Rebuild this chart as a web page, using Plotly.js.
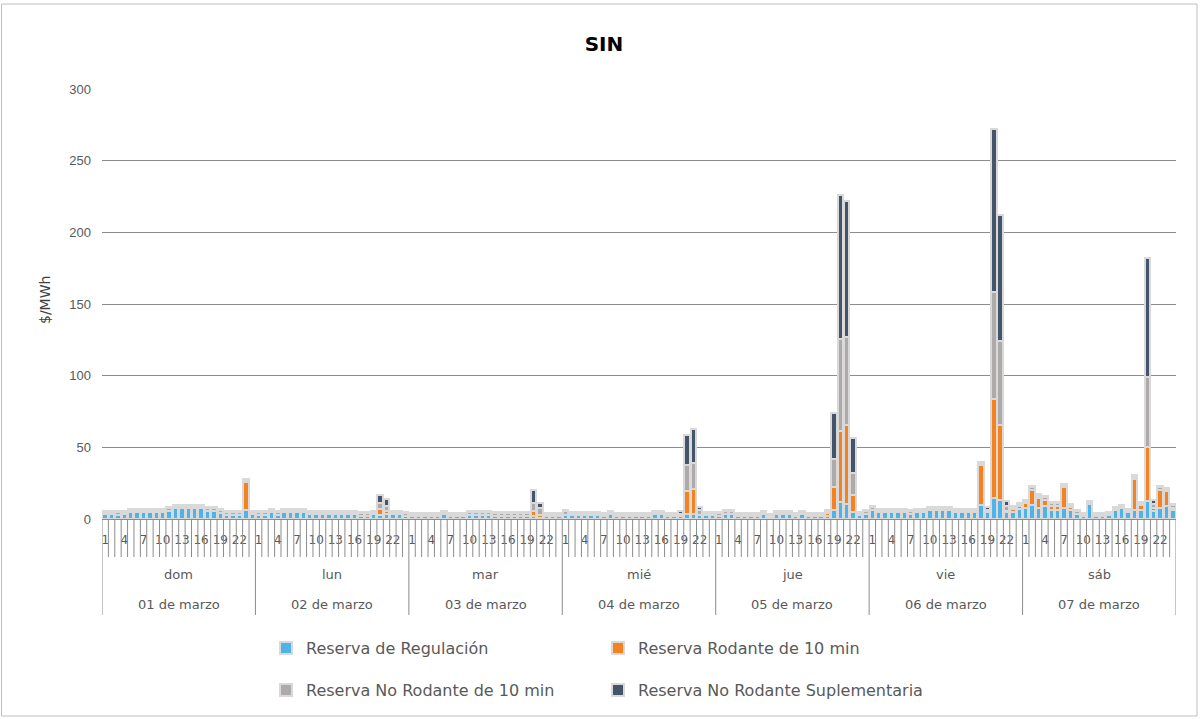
<!DOCTYPE html>
<html><head><meta charset="utf-8">
<script src="https://cdn.plot.ly/plotly-3.0.1.min.js"></script>
<style>html,body{margin:0;padding:0;background:#fff}#chart{width:1202px;height:719px}</style>
</head><body><div id="chart"></div>
<script>
const days = ['dom','lun','mar','mié','jue','vie','sáb'];
const dates = ['01 de marzo','02 de marzo','03 de marzo','04 de marzo','05 de marzo','06 de marzo','07 de marzo'];
const hours = [1,2,3,4,5,6,7,8,9,10,11,12,13,14,15,16,17,18,19,20,21,22,23,24];
const hourLabels = [1,4,7,10,13,16,19,22];
const yTicks = [0,50,100,150,200,250,300];

// Reserva de Regulación ($/MWh), 24 hours per day, dom..sáb
const regulacion = [
 3.3,3.3,3.0,3.3,4.7,4.7,4.7,4.7,4.7,4.7,5.8,7.4,7.7,7.4,7.4,7.4,5.8,5.8,4.4,3.0,3.0,3.0,6.2,3.3,
 3.0,3.0,4.6,3.0,4.6,4.6,4.6,4.6,3.3,3.3,3.3,3.3,3.3,3.3,3.3,3.3,2.3,2.3,3.3,3.0,3.5,3.3,3.3,2.3,
 1.9,1.9,1.9,1.9,1.9,3.3,2.1,2.1,2.1,3.0,3.0,3.0,3.0,2.3,2.3,2.3,2.3,2.3,2.3,2.1,1.0,1.9,1.9,1.9,
 3.0,2.8,2.8,2.8,2.8,2.8,1.9,3.2,1.9,1.9,1.9,1.9,1.9,1.9,3.2,3.2,1.9,1.9,1.9,3.5,3.5,2.6,2.6,2.6,
 1.9,3.5,3.7,2.1,2.1,2.1,2.1,3.5,1.2,3.5,3.5,3.5,1.9,3.3,1.9,1.9,1.9,1.9,6.5,11.9,10.5,4.9,2.6,3.7,
 6.1,4.9,4.9,4.9,4.9,4.9,3.7,4.9,4.9,6.1,6.1,6.1,6.1,4.9,4.9,4.9,4.9,9.6,4.9,14.9,13.1,4.9,5.2,6.7,
 7.7,9.6,7.7,9.1,6.1,6.1,7.7,6.1,3.7,2.1,10.3,2.1,2.1,2.6,6.1,7.7,4.9,6.5,6.5,12.4,5.4,7.7,9.1,6.1
];
// Reserva Rodante de 10 min
const rodante10 = [
 0,0,0,0,0,0,0,0,0,0,0,0,0,0,0,0,0,0,0,0,0,0,19.5,0,
 0,0,0,0,0,0,0,0,0,0,0,0,0,0,0,0,0,0,0,4.0,2.1,0,0,0,
 0,0,0,0,0,0,0,0,0,0,0,0,0,0,0,0,0,0,0,3.2,2.0,0,0,0,
 0,0,0,0,0,0,0,0,0,0,0,0,0,0,0,0,0,0,0,15.8,17.5,0,0,0,
 0,0,0,0,0,0,0,0,0,0,0,0,0,0,0,0,0,2.0,15.9,49.4,55.0,12.1,0,0,
 0,0,0,0,0,0,0,0,0,0,0,0,0,0,0,0,0,28.2,0.3,68.5,52.2,0.5,1.8,2.2,
 3.5,10.9,7.0,4.4,3.2,3.2,14.4,2.1,0,0,0,0,0,0,0,0,0,21.5,3.1,37.7,2.1,12.8,10.2,1.8
];
// Reserva No Rodante de 10 min
const noRodante10 = [
 1.6,1.6,1.6,1.6,1.6,1.6,1.6,1.6,1.6,1.6,1.6,1.6,1.6,1.6,1.6,1.6,1.6,1.6,1.6,1.6,1.6,1.6,1.2,1.6,
 1.6,1.6,1.6,1.6,1.6,1.6,1.6,1.6,1.6,1.6,1.6,1.6,1.6,1.6,1.6,1.6,1.6,1.6,1.6,4.3,3.7,1.6,1.6,1.6,
 1.6,1.6,1.6,1.6,1.6,1.6,1.6,1.6,1.6,1.6,1.6,1.6,1.6,1.6,1.6,1.6,1.6,1.6,1.6,5.9,4.9,1.6,1.6,1.6,
 2.7,1.6,1.6,1.6,1.6,1.6,1.6,1.6,1.6,1.6,1.6,1.6,1.6,1.6,1.6,1.6,1.6,1.6,1.5,18.4,18.0,3.4,1.6,1.6,
 2.2,2.2,1.6,1.6,1.6,1.6,1.6,1.6,1.6,1.6,1.6,1.6,1.6,1.6,1.6,1.6,1.6,1.6,19.6,64.6,61.8,15.2,1.6,1.6,
 2.2,1.6,1.6,1.6,1.6,1.6,1.6,1.6,1.6,1.6,1.6,1.6,1.6,1.6,1.6,1.6,1.6,1.5,1.0,75.3,58.9,3.5,1.6,1.6,
 1.6,1.6,1.6,1.6,1.6,1.6,1.6,1.6,1.6,1.6,1.6,1.6,1.6,1.6,1.6,1.6,1.6,1.6,1.6,49.0,3.0,1.6,1.6,1.6
];
// Reserva No Rodante Suplementaria
const suplementaria = [
 0.8,0.8,0.8,0.8,0.8,0.8,0.8,0.8,0.8,0.8,0.8,0.8,0.8,0.8,0.8,0.8,0.8,0.8,0.8,0.8,0.8,0.8,0.8,0.8,
 0.8,0.8,0.8,0.8,0.8,0.8,0.8,0.8,0.8,0.8,0.8,0.8,0.8,0.8,0.8,0.8,0.8,0.8,0.8,5.7,4.7,0.8,0.8,0.8,
 0.8,0.8,0.8,0.8,0.8,0.8,0.8,0.8,0.8,0.8,0.8,0.8,0.8,0.8,0.8,0.8,0.8,0.8,0.8,8.8,3.3,0.8,0.8,0.8,
 0.8,0.8,0.8,0.8,0.8,0.8,0.8,0.8,0.8,0.8,0.8,0.8,0.8,0.8,0.8,0.8,0.8,0.8,2.2,20.9,23.8,2.4,0.8,0.8,
 0.8,0.8,0.8,0.8,0.8,0.8,0.8,0.8,0.8,0.8,0.8,0.8,0.8,0.8,0.8,0.8,0.8,0.8,32.1,100.4,94.8,24.4,0.8,0.8,
 0.8,0.8,0.8,0.8,0.8,0.8,0.8,0.8,0.8,0.8,0.8,0.8,0.8,0.8,0.8,0.8,0.8,0.8,2.2,113.1,87.9,3.5,0.8,0.8,
 0.8,0.8,0.8,0.8,0.8,0.8,0.8,0.8,0.8,0.8,0.8,0.8,0.8,0.8,0.8,0.8,0.8,0.8,0.8,82.7,2.5,0.8,0.8,0.8
];

const seriesNames = ['Reserva de Regulación','Reserva Rodante de 10 min','Reserva No Rodante de 10 min','Reserva No Rodante Suplementaria'];
const seriesColors = ['#4db3e8','#f5821f','#aeaaaa','#44546a'];
const seriesValues = [regulacion, rodante10, noRodante10, suplementaria];
const seriesLegend = ['legend','legend','legend2','legend2'];

const nCat = days.length * hours.length;
const xIdx = [];
for (let i = 0; i < nCat; i++) xIdx.push(i);

const traces = seriesValues.map((vals, k) => ({
  type: 'bar', x: xIdx, y: vals, name: seriesNames[k], legend: seriesLegend[k],
  marker: {color: seriesColors[k], line: {color: '#d9d9d9', width: 2}},
  hoverinfo: 'y+name'
}));

// hour tick labels
const tickvals = [], ticktext = [];
days.forEach((d, di) => {
  hours.forEach((h, hi) => {
    if (hourLabels.indexOf(h) >= 0) { tickvals.push(di * hours.length + hi); ticktext.push(String(h)); }
  });
});

const axisGray = '#8c8c8c';
const textGray = '#595959';
const plotTop = 89, plotBottom = 519, plotH = plotBottom - plotTop;
const pY = px => (plotBottom - px) / plotH;
const plotL = 102, plotR = 1176, plotW = plotR - plotL;
const pX = px => (px - plotL) / plotW;

const shapes = [];
for (let i = 0; i <= nCat; i++) {
  const isDay = i % hours.length === 0;
  shapes.push({type: 'line', xref: 'x', yref: 'paper', x0: i - 0.5, x1: i - 0.5,
    y0: 0, y1: isDay ? pY(615) : pY(557), line: {color: axisGray, width: 1}});
}
shapes.push({type: 'rect', xref: 'paper', yref: 'paper', x0: pX(1.5), x1: pX(1197), y0: pY(716), y1: pY(4),
  line: {color: '#bfbfbf', width: 1}, fillcolor: 'rgba(0,0,0,0)'});

const annotations = [];
days.forEach((d, di) => {
  const cx = di * hours.length + (hours.length - 1) / 2;
  annotations.push({xref: 'x', yref: 'paper', x: cx, y: pY(574), text: d, showarrow: false,
    font: {family: 'DejaVu Sans', size: 13, color: textGray}, yanchor: 'middle'});
  annotations.push({xref: 'x', yref: 'paper', x: cx, y: pY(604), text: dates[di], showarrow: false,
    font: {family: 'DejaVu Sans', size: 13, color: textGray}, yanchor: 'middle'});
});
annotations.push({xref: 'paper', yref: 'paper', x: pX(45), y: pY(300), text: '$/MWh', textangle: -90,
  showarrow: false, xanchor: 'center', yanchor: 'middle', font: {family: 'DejaVu Sans', size: 14, color: '#404040'}});

const legendBase = {orientation: 'h', xanchor: 'left', x: pX(266), yanchor: 'middle',
  font: {family: 'DejaVu Sans', size: 16, color: textGray}, entrywidth: 287, entrywidthmode: 'pixels',
  bgcolor: 'rgba(0,0,0,0)', traceorder: 'normal'};

const layout = {
  width: 1202, height: 719,
  margin: {l: plotL, r: 1202 - plotR, t: plotTop, b: 719 - plotBottom},
  paper_bgcolor: '#ffffff', plot_bgcolor: '#ffffff',
  barmode: 'stack', bargap: 0.15,
  title: {text: 'SIN', xref: 'container', x: 604 / 1202, xanchor: 'center', yref: 'container', y: 1 - 44 / 719, yanchor: 'middle',
    font: {family: 'DejaVu Sans', size: 20, weight: 'bold', color: '#000000'}},
  xaxis: {range: [-0.5, nCat - 0.5], tickmode: 'array', tickvals: tickvals, ticktext: ticktext, ticks: '',
    showgrid: false, zeroline: false, showline: true, linecolor: axisGray, linewidth: 1,
    tickfont: {family: 'DejaVu Sans', size: 12, color: textGray}, ticklabelstandoff: 10, automargin: false, fixedrange: true},
  yaxis: {range: [0, 300], tickmode: 'array', tickvals: yTicks, ticks: '', showgrid: true, gridcolor: axisGray, gridwidth: 1,
    zeroline: false, showline: false, tickfont: {family: 'Liberation Sans', size: 13, color: textGray},
    ticklabelstandoff: 10, automargin: false, fixedrange: true},
  shapes: shapes, annotations: annotations,
  showlegend: true,
  legend: Object.assign({}, legendBase, {y: pY(648)}),
  legend2: Object.assign({}, legendBase, {y: pY(690)})
};

Plotly.newPlot('chart', traces, layout, {displayModeBar: false, staticPlot: true});
</script>
</body></html>
